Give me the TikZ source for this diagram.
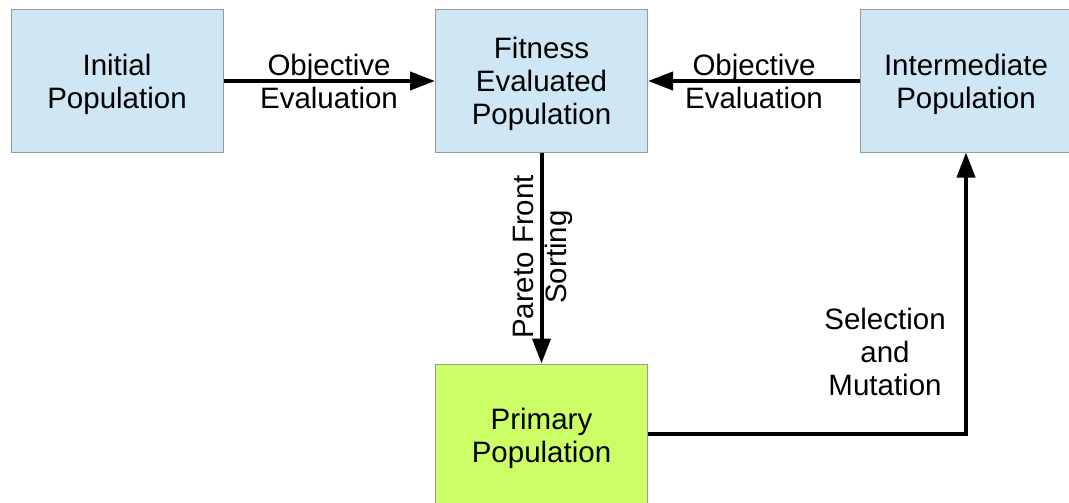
\documentclass[tikz,border=0pt]{standalone}
\usepackage{fontspec}
\setmainfont{Liberation Sans}
\usetikzlibrary{arrows.meta}
\definecolor{boxblue}{HTML}{CFE6F4}
\definecolor{boxgreen}{HTML}{CCFF66}
\definecolor{boxedge}{HTML}{999999}
\begin{document}
\begin{tikzpicture}[x=1pt,y=-1pt,
  popbox/.style={draw=boxedge,line width=1pt,minimum width=212pt,minimum height=142pt,
    inner sep=0pt,text depth=0pt,align=center,font=\fontsize{29.5}{33}\selectfont},
  flow/.style={line width=4pt,-{Triangle[length=25pt,width=18pt]}},
  lbl/.style={align=center,font=\fontsize{29.5}{33}\selectfont,inner sep=0pt}]
  \useasboundingbox (0,0) rectangle (1069,503);
  \node[popbox,fill=boxblue] (init) at (117,81) {Initial\\Population};
  \node[popbox,fill=boxblue] (fit) at (541.5,81) {Fitness\\Evaluated\\Population};
  \node[popbox,fill=boxblue] (inter) at (966,81) {Intermediate\\Population};
  \node[popbox,fill=boxgreen] (prim) at (541.5,435) {Primary\\Population};
  \coordinate (corner) at (966,434);
  % connectors
  \draw[flow] (init.east) -- (fit.west);
  \draw[flow] (inter.west) -- (fit.east);
  \draw[flow] (fit.south) -- (prim.north);
  \draw[flow] (prim.east |- corner) -- (corner) -- (inter.south);
  % labels
  \node[lbl] (l1) at (329,81) {Objective\\Evaluation};
  \node[lbl] (l2) at (754,81) {Objective\\Evaluation};
  \node[lbl,rotate=90] (l3) at (543,257) {Pareto Front\\Sorting};
  \node[lbl] (l4) at (885,352) {Selection\\and\\Mutation};
\end{tikzpicture}
\end{document}
